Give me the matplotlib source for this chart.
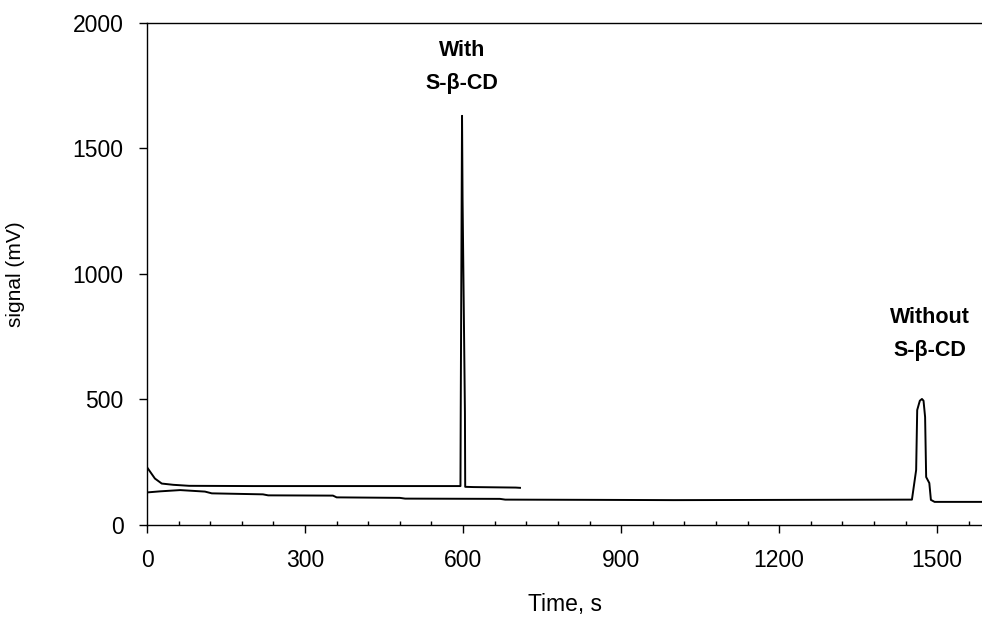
import matplotlib
matplotlib.use("Agg")
import matplotlib.pyplot as plt
from matplotlib.ticker import MultipleLocator

plt.rcParams["font.family"] = ["Liberation Sans", "DejaVu Sans"]

# electropherogram traces, time (s) vs signal (mV)
t_with = [0, 5, 15, 28, 50, 80, 200, 400, 595, 595.5, 598, 599, 603.5, 604, 620, 700, 708]
v_with = [230, 215, 185, 165, 160, 156, 155, 155, 155, 446, 1630, 1300, 446, 152, 151, 149, 148]

t_without = [0, 2, 25, 63, 110, 123, 220, 230, 353, 360, 480, 490, 670, 680, 860, 1000,
             1452, 1460, 1462, 1467, 1471, 1474, 1477, 1479, 1485, 1488, 1495, 1585]
v_without = [129, 130, 134, 139, 133, 126, 122, 118, 117, 110, 108, 105, 104, 101, 100, 99,
             101, 219, 458, 495, 502, 495, 430, 191, 167, 100, 92, 92]

x_ticks = [0, 300, 600, 900, 1200, 1500]
y_ticks = [0, 500, 1000, 1500, 2000]

fig = plt.figure(figsize=(9.82, 6.19), dpi=100)
ax = fig.add_axes([0.1497, 0.1519, 0.8503, 0.8110])

ax.plot(t_with, v_with, color="k", lw=1.4)
ax.plot(t_without, v_without, color="k", lw=1.4)

ax.text(598, 1825, "With\nS-\u03b2-CD", ha="center", va="center", fontsize=15.5,
        fontweight="bold", linespacing=1.75)
ax.text(1487, 761, "Without\nS-\u03b2-CD", ha="center", va="center", fontsize=15.5,
        fontweight="bold", linespacing=1.75)

ax.set_xlim(0, 1585)
ax.set_ylim(0, 2000)
ax.set_xticks(x_ticks)
ax.set_yticks(y_ticks)
ax.xaxis.set_minor_locator(MultipleLocator(60))
ax.tick_params(axis="both", which="major", direction="out", length=6, width=1,
               labelsize=16.5, pad=11)
ax.tick_params(axis="x", which="minor", direction="in", length=3, width=1)
ax.tick_params(axis="y", which="minor", left=False)
ax.spines["right"].set_visible(False)
for s in ("left", "bottom", "top"):
    ax.spines[s].set_linewidth(1.0)

ax.set_xlabel("Time, s", fontsize=16.5, va="center")
ax.xaxis.set_label_coords(0.5006, -0.159)
ax.set_ylabel("signal (mV)", fontsize=15, va="center")
ax.yaxis.set_label_coords(-0.158, 0.5)

fig.savefig("out.png", dpi=100)
